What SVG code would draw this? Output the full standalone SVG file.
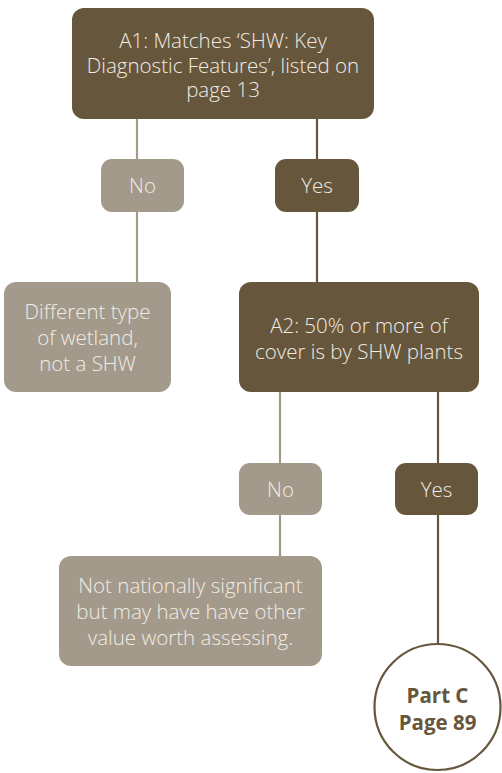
<svg xmlns="http://www.w3.org/2000/svg" width="502" height="773" viewBox="0 0 502 773">
<style>
.dark{fill:#66563c}
.light{fill:#a39a8b}
.t{font-family:"Open Sans","Noto Sans",sans-serif;font-size:20.5px;fill:#f1ece4;text-anchor:middle;font-weight:300}
.ld{stroke:#66563c;stroke-width:2.2;fill:none}
.ll{stroke:#a39a8b;stroke-width:2.2;fill:none}
.ct{font-family:"Open Sans","Noto Sans",sans-serif;font-size:20.5px;font-weight:700;fill:#66563c;text-anchor:middle}
</style>
<rect width="502" height="773" fill="#ffffff"/>
<g id="connectors">
<line class="ll" x1="137" y1="119" x2="137" y2="282"/>
<line class="ld" x1="317" y1="119" x2="317" y2="282"/>
<line class="ll" x1="280" y1="392" x2="280" y2="556"/>
<line class="ld" x1="438" y1="392" x2="438" y2="644"/>
</g>
<g id="a1">
<rect class="dark" x="72" y="8" width="302" height="111" rx="12"/>
<text class="t" x="223" y="48">A1: Matches ‘SHW: Key</text>
<text class="t" x="223" y="73">Diagnostic Features’, listed on</text>
<text class="t" x="223" y="97">page 13</text>
</g>
<g id="no1">
<rect class="light" x="101" y="159" width="83" height="53" rx="11"/>
<text class="t" x="142.5" y="193">No</text>
</g>
<g id="yes1">
<rect class="dark" x="275" y="159" width="84" height="53" rx="11"/>
<text class="t" x="317" y="193">Yes</text>
</g>
<g id="different">
<rect class="light" x="4" y="282" width="167" height="110" rx="12"/>
<text class="t" x="87.5" y="319">Different type</text>
<text class="t" x="87.5" y="345">of wetland,</text>
<text class="t" x="87.5" y="371">not a SHW</text>
</g>
<g id="a2">
<rect class="dark" x="239" y="282" width="240" height="110" rx="12"/>
<text class="t" x="359" y="333">A2: 50% or more of</text>
<text class="t" x="359" y="359">cover is by SHW plants</text>
</g>
<g id="no2">
<rect class="light" x="239" y="463" width="83" height="52" rx="11"/>
<text class="t" x="280.5" y="497">No</text>
</g>
<g id="yes2">
<rect class="dark" x="395" y="463" width="83" height="52" rx="11"/>
<text class="t" x="436.5" y="497">Yes</text>
</g>
<g id="notsig">
<rect class="light" x="59" y="556" width="263" height="110" rx="12"/>
<text class="t" x="190.5" y="593">Not nationally significant</text>
<text class="t" x="190.5" y="619">but may have have other</text>
<text class="t" x="190.5" y="645">value worth assessing.</text>
</g>
<g id="partc">
<circle cx="437.5" cy="707" r="63" fill="#ffffff" stroke="#66563c" stroke-width="2.2"/>
<text class="ct" x="437.5" y="703">Part C</text>
<text class="ct" x="437.5" y="730">Page 89</text>
</g>
</svg>
